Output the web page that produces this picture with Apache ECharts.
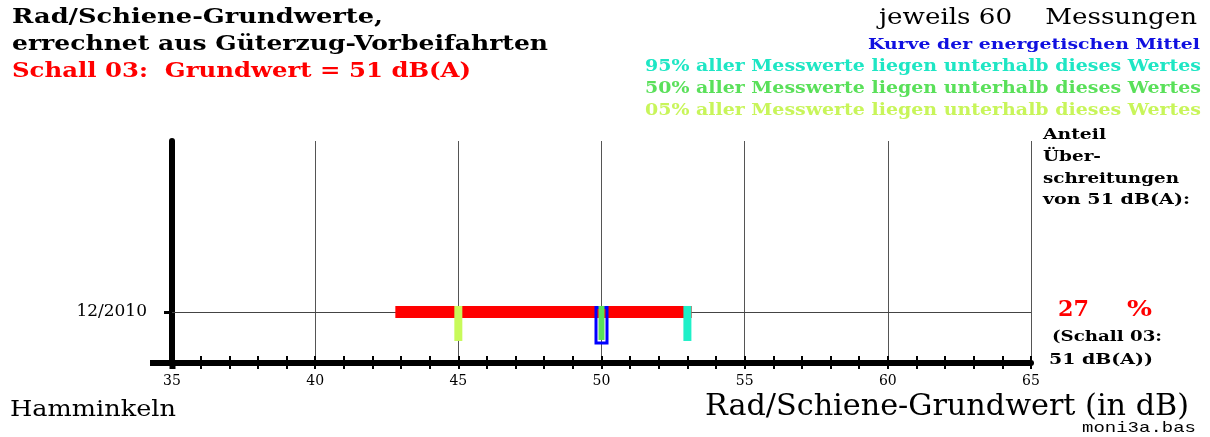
<!DOCTYPE html>
<html><head><meta charset="utf-8">
<script src="https://cdn.jsdelivr.net/npm/echarts@6/dist/echarts.min.js"></script>
<style>html,body{margin:0;padding:0;background:#fff}#c{width:1210px;height:437px}</style>
</head><body><div id="c"></div>
<script>
// ---- data ----
const categories = ['12/2010'];
const rangeMin = [42.8];
const rangeMax = [53.15];
const p05 = [45.0];
const p50 = [50.0];
const p95 = [53.0];
const energeticMean = [50.0];
const exceedPct = [27];
const xMin = 35, xMax = 65, xStep = 5;

const SERIF = 'DejaVu Serif';
const rows = categories.map((c, i) => i + 1);

const chart = echarts.init(document.getElementById('c'));

const mctx = document.createElement('canvas').getContext('2d');
function txt(text, font, fill, x, y, width, align) {
  mctx.font = font;
  const w = mctx.measureText(text).width;
  const s = width ? width / w : 1;
  return { type: 'text', x: x, y: y, scaleX: s, z: 10,
    style: { text: text, x: 0, y: 0, font: font, fill: fill, textAlign: align || 'left', textVerticalAlign: 'middle' } };
}

function rectItem(color, w, top, bottom) {
  return function (params, api) {
    const p = api.coord([api.value(0), api.value(1)]);
    return { type: 'rect', shape: { x: p[0] - w / 2, y: p[1] - top, width: w, height: top + bottom },
      style: { fill: color } };
  };
}

const B = 'bold ';
const F = '"DejaVu Serif"';

const option = {
  animation: false,
  grid: { left: 172, right: 179, top: 141, bottom: 74, containLabel: false },
  xAxis: [{
    type: 'value', min: xMin, max: xMax, interval: xStep,
    axisLine: { show: true, lineStyle: { color: '#000', width: 6 } },
    axisTick: { show: true, length: 6, lineStyle: { color: '#000', width: 2 } },
    minorTick: { show: true, splitNumber: 5, length: 6, lineStyle: { color: '#000', width: 2 } },
    axisLabel: { fontFamily: SERIF, fontSize: 14, color: '#000', margin: 11 },
    splitLine: { show: true, lineStyle: { color: '#555', width: 1 } }
  }, {
    type: 'value', min: xMin, max: xMax, interval: xStep, position: 'bottom',
    axisLine: { show: false },
    axisTick: { show: true, inside: true, length: 7, lineStyle: { color: '#000', width: 2 } },
    minorTick: { show: true, splitNumber: 5, length: 7, lineStyle: { color: '#000', width: 2 } },
    axisLabel: { show: false }, splitLine: { show: false }
  }],
  yAxis: {
    type: 'value', min: 0, max: 4.35,
    axisLine: { show: true, lineStyle: { color: '#000', width: 6 } },
    axisTick: { show: true, customValues: rows, length: 8, lineStyle: { color: '#000', width: 3 } },
    axisLabel: { show: true, customValues: rows, margin: 25, fontFamily: SERIF, fontSize: 17, color: '#000',
      formatter: v => categories[Math.round(v) - 1] || '' },
    splitLine: { show: false }
  },
  series: [
    { // range bar
      type: 'custom', xAxisIndex: 0, z: 3,
      data: categories.map((c, i) => [rangeMin[i], rows[i], rangeMax[i]]),
      renderItem: function (params, api) {
        const a = api.coord([api.value(0), api.value(1)]);
        const b = api.coord([api.value(2), api.value(1)]);
        return { type: 'rect', shape: { x: a[0], y: a[1] - 6, width: b[0] - a[0], height: 12 }, style: { fill: '#ff0000' } };
      },
      markLine: { silent: true, symbol: 'none', label: { show: false }, z: 1,
        lineStyle: { color: '#444', width: 1, type: 'solid' },
        data: rows.map(r => ({ yAxis: r })) }
    },
    { type: 'custom', z: 4, data: categories.map((c, i) => [p05[i], rows[i]]), renderItem: rectItem('#c8fa5a', 8, 6, 29) },
    { type: 'custom', z: 4, data: categories.map((c, i) => [p95[i], rows[i]]), renderItem: rectItem('#1ef0c8', 8, 6, 29) },
    { type: 'custom', z: 5, data: categories.map((c, i) => [energeticMean[i], rows[i]]),
      renderItem: function (params, api) {
        const p = api.coord([api.value(0), api.value(1)]);
        return { type: 'rect', shape: { x: p[0] - 5.5, y: p[1] - 4.5, width: 11, height: 35.5 },
          style: { fill: 'none', stroke: '#0000ff', lineWidth: 3 } };
      } },
    { type: 'custom', z: 6, data: categories.map((c, i) => [p50[i], rows[i]]), renderItem: rectItem('#5ae35a', 6, 6, 28) }
  ],
  graphic: [
    { type: 'rect', shape: { x: 150, y: 360, width: 22, height: 6 }, style: { fill: '#000' } },
    { type: 'rect', shape: { x: 169.5, y: 362, width: 6, height: 7 }, style: { fill: '#000' } },
    // title block
    txt('Rad/Schiene-Grundwerte,', B + '21px ' + F, '#000', 12, 18, 371),
    txt('errechnet aus Güterzug-Vorbeifahrten', B + '21px ' + F, '#000', 12, 45, 536),
    txt('Schall 03:  Grundwert = 51 dB(A)', B + '21px ' + F, '#ff0000', 12, 72, 459),
    // legend block
    txt('jeweils 60    Messungen', '23px ' + F, '#000', 1197, 18, 318, 'right'),
    txt('Kurve der energetischen Mittel', B + '15px ' + F, '#1010e0', 1200, 45, 332, 'right'),
    txt('95% aller Messwerte liegen unterhalb dieses Wertes', B + '16px ' + F, '#1ee6c4', 1201, 67, 556, 'right'),
    txt('50% aller Messwerte liegen unterhalb dieses Wertes', B + '16px ' + F, '#5ae05a', 1201, 89, 556, 'right'),
    txt('05% aller Messwerte liegen unterhalb dieses Wertes', B + '16px ' + F, '#c8f55a', 1201, 111, 556, 'right'),
    // right panel
    txt('Anteil', B + '15px ' + F, '#000', 1043, 135, 63),
    txt('Über-', B + '15px ' + F, '#000', 1043, 157, 58),
    txt('schreitungen', B + '15px ' + F, '#000', 1043, 179, 136),
    txt('von 51 dB(A):', B + '15px ' + F, '#000', 1043, 200, 147),
    txt(String(exceedPct[0]), B + '22px ' + F, '#ff0000', 1058, 310, 31),
    txt('%', B + '22px ' + F, '#ff0000', 1127, 310, 25),
    txt('(Schall 03:', B + '15px ' + F, '#000', 1052, 337, 110),
    txt('51 dB(A))', B + '15px ' + F, '#000', 1049, 360, 104),
    // bottom
    txt('Hamminkeln', '23px ' + F, '#000', 10, 410, 166),
    txt('Rad/Schiene-Grundwert (in dB)', '30px ' + F, '#000', 1189, 407, 484, 'right'),
    txt('moni3a.bas', '15px "Liberation Mono"', '#000', 1196, 428, 114, 'right')
  ]
};
chart.setOption(option);
</script></body></html>
